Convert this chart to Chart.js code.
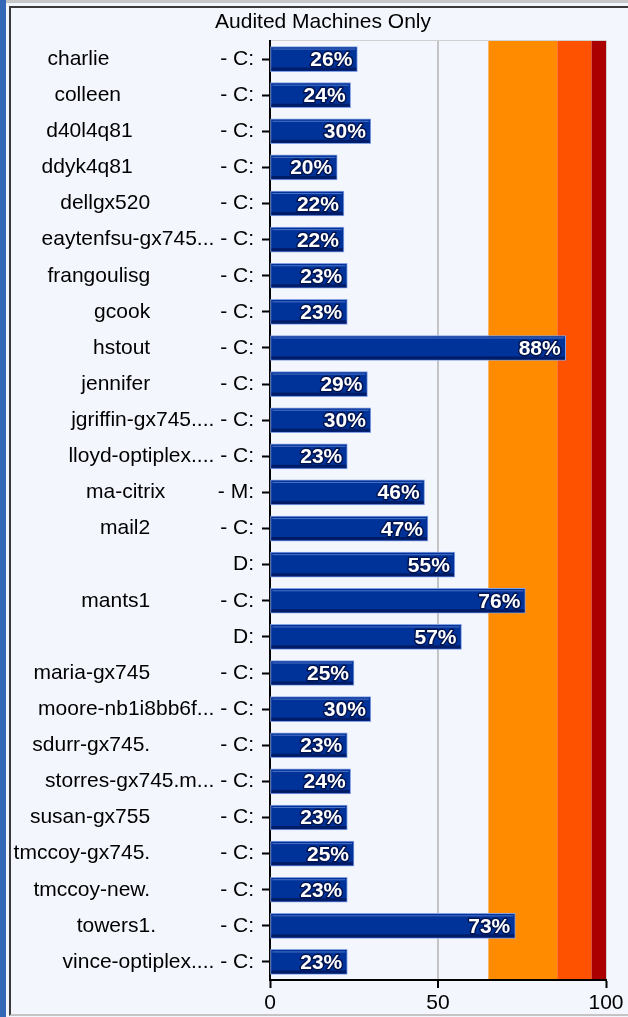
<!DOCTYPE html>
<html><head><meta charset="utf-8">
<script src="https://cdn.jsdelivr.net/npm/chart.js@4"></script>
<style>
html,body{margin:0;padding:0;overflow:hidden;}
body{width:628px;height:1017px;background:#f3f6fd;position:relative;font-family:"Liberation Sans",Arial,sans-serif;}
#topbar{position:absolute;left:0;top:0;width:628px;height:3px;background:#c6c6c6;}
#leftbar{position:absolute;left:0;top:0;width:6px;height:1017px;background:#3467b5;}
#frame{position:absolute;left:9px;top:6px;width:619px;height:1010px;border-left:2px solid #3a3a3a;border-top:2px solid #3a3a3a;border-bottom:2px solid #c4c4c4;box-sizing:border-box;}
#wrap{position:absolute;left:11px;top:8px;width:624px;height:1006px;}
</style>
</head><body>
<div id="topbar"></div><div id="leftbar"></div><div id="frame"></div>
<div id="wrap"><canvas id="c" width="624" height="1006"></canvas></div>
<script>
function sp(n){ return ' '.repeat(n); }

const titleText = 'Audited Machines Only';
const names = [
  'charlie'+sp(18), 'colleen'+sp(16), 'd40l4q81'+sp(14), 'ddyk4q81'+sp(14), 'dellgx520'+sp(11),
  'eaytenfsu-gx745...', 'frangoulisg'+sp(11), 'gcook'+sp(11), 'hstout'+sp(11), 'jennifer'+sp(11),
  'jgriffin-gx745....', 'lloyd-optiplex....', 'ma-citrix'+sp(8), 'mail2'+sp(11), '',
  'mants1'+sp(11), '', 'maria-gx745'+sp(11), 'moore-nb1i8bb6f...', 'sdurr-gx745.'+sp(11),
  'storres-gx745.m...', 'susan-gx755'+sp(11), 'tmccoy-gx745.'+sp(11), 'tmccoy-new.'+sp(11), 'towers1.'+sp(10),
  'vince-optiplex....'
];
const drives = [
  '- C:','- C:','- C:','- C:','- C:',
  '- C:','- C:','- C:','- C:','- C:',
  '- C:','- C:','- M:','- C:','D:',
  '- C:','D:','- C:','- C:','- C:',
  '- C:','- C:','- C:','- C:','- C:',
  '- C:'
];
const values = [26,24,30,20,22,22,23,23,88,29,30,23,46,47,55,76,57,25,30,23,24,23,25,23,73,23];
const xTickValues = [0,50,100];
const bandStarts = [65, 85.5, 95.7];
const bandEnds   = [85.5, 95.7, 100];
const bandColors = ['#ff8c00','#ff5200','#aa0000'];

const labels = names.map((n,i) => n ? n + ' ' + drives[i] : drives[i]);
const FONT = '"Liberation Sans", Arial, sans-serif';
Chart.defaults.font.family = FONT;
Chart.defaults.font.size = 21;
Chart.defaults.color = '#000';

const bandsPlugin = {
  id: 'bands',
  beforeDraw(chart){
    const {ctx, chartArea:a, scales:{x}} = chart;
    ctx.save();
    for (let i=0;i<bandStarts.length;i++){
      const x0 = x.getPixelForValue(bandStarts[i]);
      const x1 = x.getPixelForValue(bandEnds[i]);
      ctx.fillStyle = bandColors[i];
      ctx.fillRect(x0, a.top, x1-x0, a.bottom-a.top);
    }
    ctx.strokeStyle = '#d0d0d0';
    ctx.lineWidth = 1;
    ctx.beginPath();
    ctx.moveTo(a.left, a.top-0.5); ctx.lineTo(a.right+0.5, a.top-0.5); ctx.lineTo(a.right+0.5, a.bottom);
    ctx.stroke();
    ctx.restore();
  }
};

const barDecorPlugin = {
  id: 'barDecor',
  afterDatasetsDraw(chart){
    const {ctx} = chart;
    const meta = chart.getDatasetMeta(0);
    ctx.save();
    meta.data.forEach((el,i) => {
      const {x, y, base, height} = el.getProps(['x','y','base','height'], true);
      const top = y - height/2, bot = y + height/2;
      ctx.fillStyle = '#001c66';
      ctx.fillRect(base+1, bot-4, x-base-2, 3);
      ctx.fillStyle = 'rgba(140,165,235,0.55)';
      ctx.fillRect(base+2, top+2, x-base-4, 1);
      const txt = values[i] + '%';
      ctx.font = 'bold 21px ' + FONT;
      ctx.textAlign = 'right';
      ctx.textBaseline = 'alphabetic';
      ctx.lineJoin = 'round';
      ctx.lineWidth = 3;
      ctx.strokeStyle = '#001450';
      ctx.strokeText(txt, x-5, y+7);
      ctx.fillStyle = '#ffffff';
      ctx.fillText(txt, x-5, y+7);
    });
    ctx.restore();
  }
};

new Chart(document.getElementById('c'), {
  type: 'bar',
  data: {
    labels: labels,
    datasets: [{
      data: values,
      backgroundColor: '#003399',
      borderColor: '#86a0e4',
      borderWidth: 1,
      borderSkipped: false,
      barThickness: 25
    }]
  },
  options: {
    indexAxis: 'y',
    responsive: false,
    animation: false,
    layout: { padding: { left: 0, right: 0, top: 0, bottom: 0 } },
    plugins: {
      legend: { display: false },
      tooltip: { enabled: false },
      title: {
        display: true,
        text: titleText,
        color: '#000',
        font: { size: 21, weight: 'normal', family: FONT },
        padding: { top: 1.5, bottom: 6.3 }
      }
    },
    scales: {
      x: {
        type: 'linear',
        position: 'bottom',
        min: 0, max: 100,
        afterBuildTicks(s){ s.ticks = xTickValues.map(v => ({value: v})); },
        ticks: { color: '#000', font: { size: 21 }, padding: 3 },
        grid: {
          drawOnChartArea: true,
          drawTicks: true,
          tickLength: 8,
          tickColor: '#000',
          tickWidth: 2,
          color: c => (c.tick && c.tick.value === 50) ? '#c4c4c4' : ((c.tick && c.tick.value === 100) ? '#d0d0d0' : 'rgba(0,0,0,0)'),
          lineWidth: c => (c.tick && c.tick.value === 50) ? 2 : 1
        },
        border: { display: true, color: '#000', width: 2 },
        afterFit(s){ s.height = 34; }
      },
      y: {
        type: 'category',
        position: 'left',
        offset: true,
        ticks: { autoSkip: false, color: '#000', font: { size: 21 }, padding: 8 },
        grid: {
          display: true,
          drawOnChartArea: false,
          drawTicks: true,
          tickLength: 8,
          tickColor: '#000',
          tickWidth: 2,
          offset: false
        },
        border: { display: true, color: '#000', width: 2 },
        afterFit(s){ s.width = 259; }
      },
      yRight: {
        type: 'category',
        position: 'right',
        offset: true,
        ticks: { display: false },
        grid: { display: false },
        border: { display: false },
        afterFit(s){ s.width = 29; }
      }
    }
  },
  plugins: [bandsPlugin, barDecorPlugin]
});
</script>
</body></html>
